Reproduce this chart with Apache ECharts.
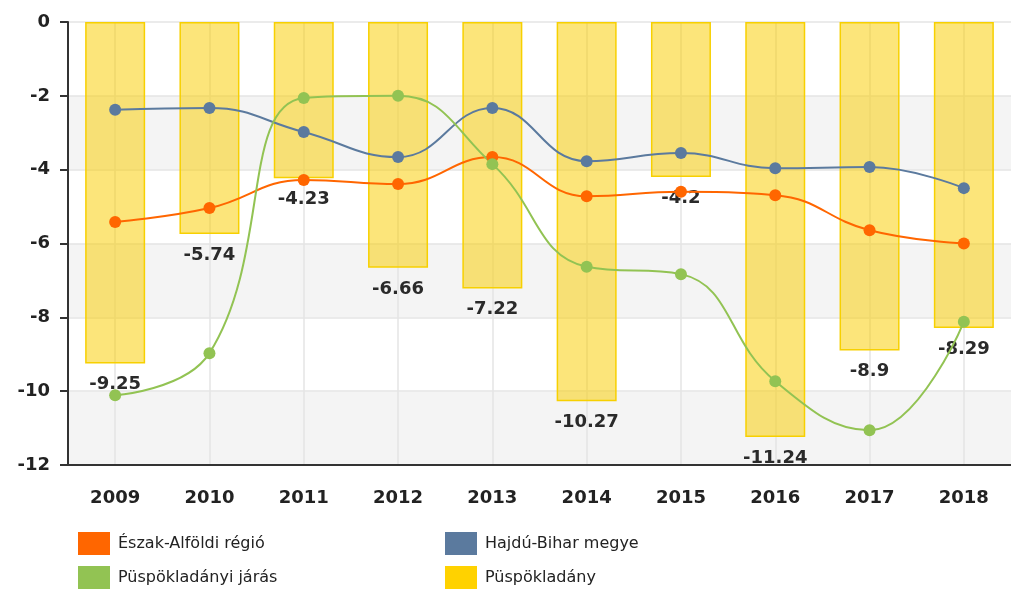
<!DOCTYPE html>
<html>
<head>
<meta charset="utf-8">
<script src="https://cdn.jsdelivr.net/npm/echarts@6/dist/echarts.min.js"></script>
<style>
  html, body { margin: 0; padding: 0; background: #fff; }
  #chart { width: 1011px; height: 592px; }
</style>
</head>
<body>
<div id="chart"></div>
<script>
// évek
var years = ['2009', '2010', '2011', '2012', '2013', '2014', '2015', '2016', '2017', '2018'];
var yTicks = [0, -2, -4, -6, -8, -10, -12];

// sorozatok
var eszakAlfoldi = [-5.42, -5.04, -4.28, -4.39, -3.66, -4.72, -4.6, -4.69, -5.64, -6.0];
var hajduBihar = [-2.38, -2.33, -2.98, -3.66, -2.33, -3.77, -3.55, -3.96, -3.93, -4.5];
var puspokJaras = [-10.11, -8.97, -2.06, -2.0, -3.85, -6.63, -6.83, -9.73, -11.06, -8.12];
var puspokladany = [-9.25, -5.74, -4.23, -6.66, -7.22, -10.27, -4.2, -11.24, -8.9, -8.29];

var names = ['Észak-Alföldi régió', 'Hajdú-Bihar megye', 'Püspökladányi járás', 'Püspökladány'];
var colors = ['#FF6600', '#5B7A9E', '#92C353', '#FFD200'];

var chart = echarts.init(document.getElementById('chart'));

function lineSeries(name, data, color) {
  return {
    name: name,
    type: 'line',
    data: data,
    smooth: 0.45,
    symbol: 'circle',
    symbolSize: 12,
    z: 3,
    lineStyle: { color: color, width: 2 },
    itemStyle: { color: color }
  };
}

// legenda oszlopok
function legendCol(left, items) {
  return {
    left: left, top: 532,
    padding: 0,
    orient: 'vertical',
    icon: 'rect',
    itemWidth: 32, itemHeight: 23, itemGap: 11,
    textStyle: { fontSize: 16, color: '#222', fontFamily: 'DejaVu Sans', padding: [0, 0, 0, 3] },
    data: items
  };
}

var option = {
  animation: false,
  textStyle: { fontFamily: 'DejaVu Sans' },
  grid: { left: 68, top: 22, right: -7, bottom: 127 },
  legend: [
    legendCol(78, [
      { name: names[0], itemStyle: { color: colors[0] } },
      { name: names[2], itemStyle: { color: colors[2] } }
    ]),
    legendCol(445, [
      { name: names[1], itemStyle: { color: colors[1] } },
      { name: names[3], itemStyle: { color: colors[3], opacity: 1, borderWidth: 0 } }
    ])
  ],
  xAxis: {
    type: 'category',
    data: years,
    boundaryGap: true,
    axisLine: { onZero: false, lineStyle: { color: '#333', width: 2 } },
    axisTick: { alignWithLabel: true, length: 8, lineStyle: { color: '#333', width: 2 } },
    axisLabel: { fontSize: 18, fontWeight: 'bold', color: '#222', margin: 24 },
    splitLine: { show: true, alignWithLabel: true, lineStyle: { color: '#e4e4e4', width: 1.5 } }
  },
  yAxis: {
    type: 'value',
    min: -12, max: 0, interval: 2,
    axisLine: { show: true, lineStyle: { color: '#333', width: 2 } },
    axisTick: { show: true, length: 8, lineStyle: { color: '#333', width: 2 } },
    axisLabel: { fontSize: 18, fontWeight: 'bold', color: '#222', margin: 18 },
    splitLine: { show: true, lineStyle: { color: '#e4e4e4', width: 1.5 } },
    splitArea: { show: true, areaStyle: { color: ['#f4f4f4', '#ffffff'] } }
  },
  series: [{
    name: names[3],
    type: 'bar',
    data: puspokladany,
    barWidth: 60,
    z: 2,
    itemStyle: { color: 'rgba(250,205,0,0.52)', borderColor: '#F7D000', borderWidth: 1.5 },
    label: {
      show: true,
      position: 'bottom',
      distance: 12,
      fontSize: 18,
      fontWeight: 'bold',
      color: '#2a2a2a',
      fontFamily: 'DejaVu Sans'
    }
  },
    lineSeries(names[0], eszakAlfoldi, colors[0]),
    lineSeries(names[1], hajduBihar, colors[1]),
    lineSeries(names[2], puspokJaras, colors[2])
  ]
};

chart.setOption(option);
</script>
</body>
</html>
